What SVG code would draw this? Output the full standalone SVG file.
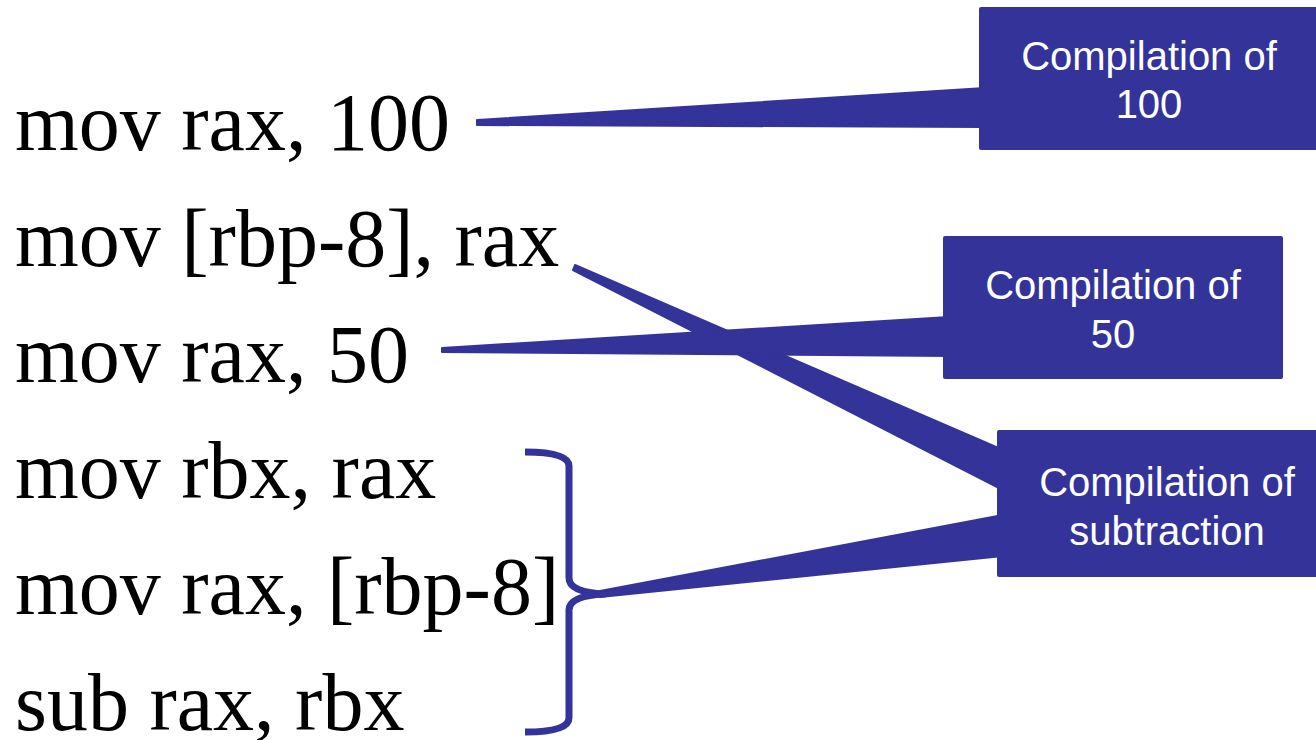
<svg xmlns="http://www.w3.org/2000/svg" width="1316" height="740" viewBox="0 0 1316 740">
  <style>
    .code { font-family: "Liberation Serif", "Times New Roman", serif; font-size: 82px; fill: #000; }
    .box { fill: #343399; }
    .lbl { font-family: "Liberation Sans", Arial, sans-serif; font-size: 40px; fill: #fff; text-anchor: middle; }
    .tail { fill: #343399; stroke: #343399; stroke-width: 2; stroke-linejoin: round; }
    .brace { fill: none; stroke: #343399; stroke-width: 7; stroke-linecap: butt; stroke-linejoin: round; }
  </style>
  <rect width="1316" height="740" fill="#fff"/>

  <g id="code">
    <text id="line1" class="code" x="15" y="150">mov rax, 100</text>
    <text id="line2" class="code" x="15" y="266">mov [rbp-8], rax</text>
    <text id="line3" class="code" x="15" y="382">mov rax, 50</text>
    <text id="line4" class="code" x="15" y="498">mov rbx, rax</text>
    <text id="line5" class="code" x="15" y="614">mov rax, [rbp-8]</text>
    <text id="line6" class="code" x="15" y="730">sub rax, rbx</text>
  </g>

  <g id="connectors">
    <polygon class="tail" points="477,120 985,88 985,127 477,125"/>
    <polygon class="tail" points="575,265 1003,450 1003,490 573,270"/>
    <polygon class="tail" points="442,348 949,317 949,356 442,352"/>
    <polygon class="tail" points="600,591 1003,515 1003,556 600,597"/>
    <path class="brace" d="M525,452 Q569,452 569,466 L569,578 Q569,592 604,594 Q569,596 569,610 L569,718 Q569,732 525,732"/>
  </g>

  <g id="box-100">
    <rect class="box" x="979" y="7" width="340" height="143" rx="2"/>
    <text class="lbl" x="1149" y="70">Compilation of</text>
    <text class="lbl" x="1149" y="118">100</text>
  </g>

  <g id="box-50">
    <rect class="box" x="943" y="236" width="340" height="143" rx="2"/>
    <text class="lbl" x="1113" y="299">Compilation of</text>
    <text class="lbl" x="1113" y="348">50</text>
  </g>

  <g id="box-sub">
    <rect class="box" x="997" y="430" width="340" height="147" rx="2"/>
    <text class="lbl" x="1167" y="496">Compilation of</text>
    <text class="lbl" x="1167" y="545">subtraction</text>
  </g>
</svg>
